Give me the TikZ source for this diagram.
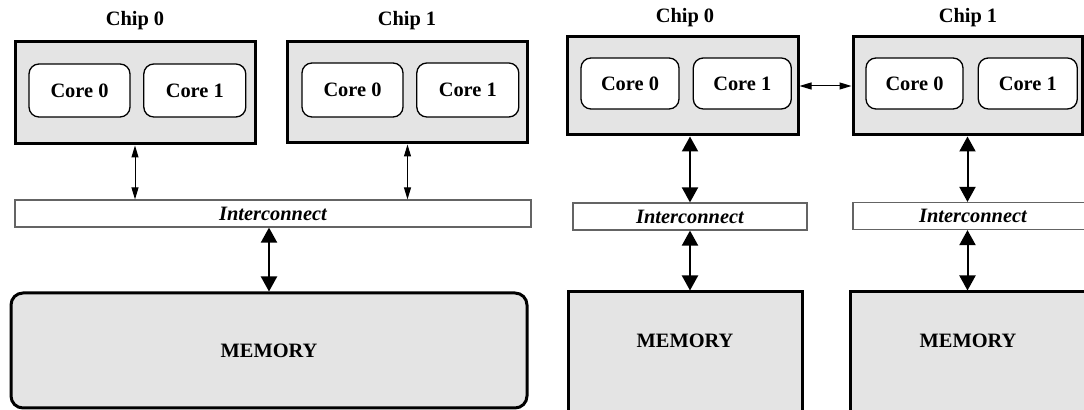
\documentclass[tikz,border=0pt]{standalone}
\usepackage{fontspec}
\setmainfont{Liberation Serif}
\usetikzlibrary{positioning}
\usetikzlibrary{arrows.meta}
\definecolor{chipgray}{RGB}{228,228,228}
\definecolor{linkgray}{RGB}{100,100,100}

\begin{document}
\begin{tikzpicture}[x=0.5pt, y=-0.5pt,
    txt/.style={font=\bfseries\fontsize{10.2}{12}\selectfont},
    chipbox/.style={rectangle, draw=black, fill=chipgray, line width=1.5pt,
      inner sep=0pt, minimum width=#1},
    corebox/.style={rectangle, rounded corners=5pt, draw=black, fill=white,
      line width=0.65pt, inner sep=0pt, minimum width=#1, txt},
    linkbox/.style={rectangle, draw=linkgray, fill=white, line width=0.6pt,
      inner sep=0pt, minimum height=13.5pt, minimum width=#1,
      font=\bfseries\itshape\fontsize{10.2}{12}\selectfont},
    membox/.style={rectangle, draw=black, fill=chipgray, line width=1.5pt,
      inner sep=0pt, minimum width=#1},
    thin arrow/.style={{Triangle[length=6pt,width=3.5pt]}-{Triangle[length=6pt,width=3.5pt]}, line width=0.5pt},
    thick arrow/.style={{Triangle[length=7.5pt,width=8pt]}-{Triangle[length=7.5pt,width=8pt]}, line width=1pt}, ]
    \path[use as bounding box, clip] (0,0) rectangle (1084,410);
    % Nodes: shared interconnect
    \node[txt] (labelA0) at (135,21) {Chip 0};
    \node[txt] (labelA1) at (407,21) {Chip 1};
    \node[chipbox=120pt, minimum height=51pt] (chipA0) at (135,93) {};
    \node[corebox=50.5pt, minimum height=26.5pt] (coreA00) at (79.5,90.5) {Core 0};
    \node[corebox=51pt, minimum height=26.5pt] (coreA01) [right=6.25pt of coreA00] {Core 1};
    \node[chipbox=120pt, minimum height=50.5pt] (chipA1) at (407.5,92.5) {};
    \node[corebox=50.5pt, minimum height=27pt] (coreA10) at (352.5,90) {Core 0};
    \node[corebox=51pt, minimum height=27pt] (coreA11) [right=6.25pt of coreA10] {Core 1};
    \node[linkbox=258pt] (linkA) at (273,213.5) {Interconnect};
    \node[membox=258pt, minimum height=57.5pt, rounded corners=6pt] (memA) at (269,350.5) {};
    \node[txt] (memtextA) at (memA) {MEMORY};
    % Nodes: private interconnect
    \node[txt] (labelB0) at (685,18) {Chip 0};
    \node[txt] (labelB1) at (968,18) {Chip 1};
    \node[chipbox=115.5pt, minimum height=49pt] (chipB0) at (682.5,86) {};
    \node[corebox=49pt, minimum height=25.5pt] (coreB00) at (630,83.5) {Core 0};
    \node[corebox=49pt, minimum height=25.5pt] (coreB01) [right=6.5pt of coreB00] {Core 1};
    \node[chipbox=114.5pt, minimum height=49pt] (chipB1) at (967.5,86) {};
    \node[corebox=48.5pt, minimum height=25.5pt] (coreB10) at (914.5,83.5) {Core 0};
    \node[corebox=49.5pt, minimum height=25.5pt] (coreB11) [right=7pt of coreB10] {Core 1};
    \node[linkbox=117pt] (linkB0) at (690,216.5) {Interconnect};
    \node[linkbox=120pt] (linkB1) at (973,216) {Interconnect};
    \node[membox=117pt, minimum height=80pt] (memB0) at (685,372) {};
    \node[membox=120pt, minimum height=80pt] (memB1) at (970,372) {};
    \node[txt] (memtextB0) at (685,341) {MEMORY};
    \node[txt] (memtextB1) at (968,341) {MEMORY};
    % Lines
    \draw[thin arrow] (chipA0.south) -- (chipA0.south |- linkA.north);
    \draw[thin arrow] (chipA1.south) -- (chipA1.south |- linkA.north);
    \draw[thick arrow] (linkA.south -| memA.north) -- (memA.north);
    \draw[thin arrow] (chipB0.east) -- (chipB1.west);
    \draw[thick arrow] (chipB0.south -| linkB0.north) -- (linkB0.north);
    \draw[thick arrow] (linkB0.south) -- (linkB0.south |- memB0.north);
    \draw[thick arrow] (chipB1.south) -- (chipB1.south |- linkB1.north);
    \draw[thick arrow] (linkB1.south -| chipB1.south) -- (chipB1.south |- memB1.north);
  \end{tikzpicture}
\end{document}
